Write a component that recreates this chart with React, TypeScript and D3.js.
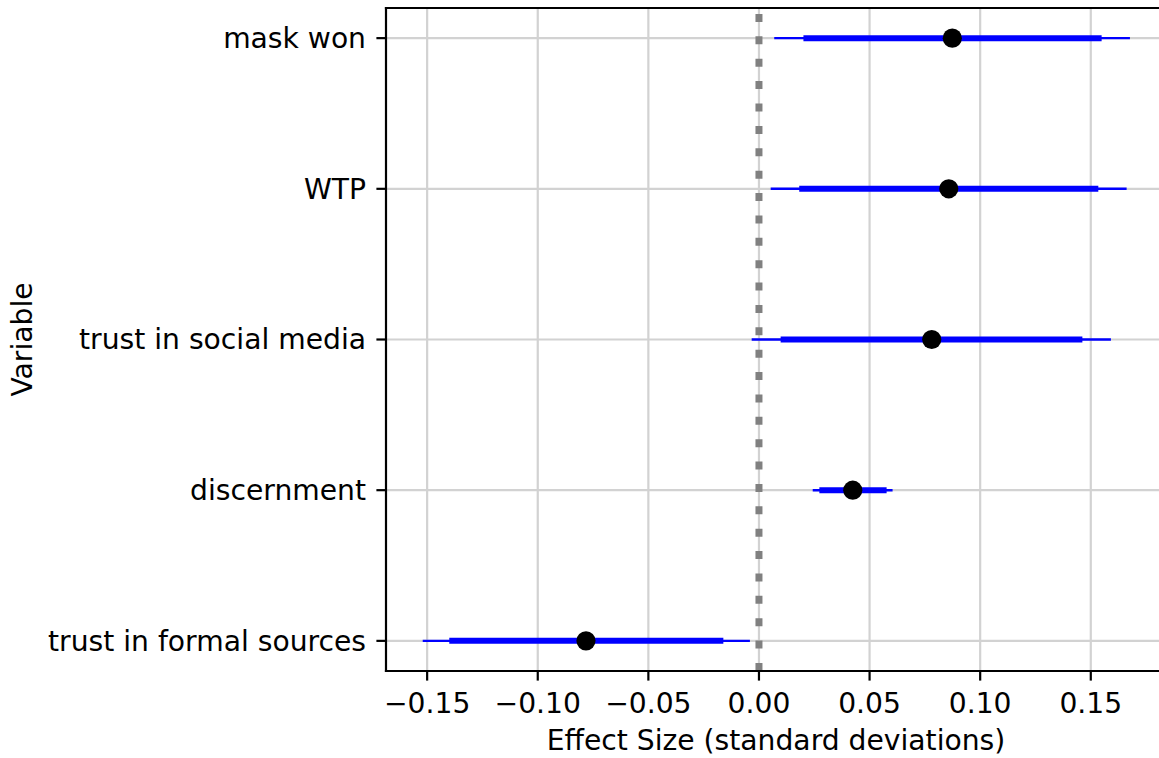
import React from "react";
import * as d3 from "d3";

const variables = ["trust in formal sources", "discernment", "trust in social media", "WTP", "mask won"];
const estimates = [-0.0782, 0.0424, 0.0781, 0.0858, 0.0874];
const ci95Low = [-0.152, 0.0243, -0.0033, 0.0053, 0.0069];
const ci95High = [-0.0041, 0.0604, 0.1591, 0.1662, 0.1677];
const ci90Low = [-0.140, 0.0273, 0.0098, 0.0182, 0.0201];
const ci90High = [-0.0161, 0.0577, 0.1462, 0.1534, 0.1549];
const xTicks = [-0.15, -0.1, -0.05, 0, 0.05, 0.1, 0.15];

const W = 1159;
const H = 758;
const L = 386, R = 1166, T = 8, B = 671;
const FONT = "DejaVu Sans, sans-serif";
const FS = 28.2;

export default function App() {
  const x = d3.scaleLinear().domain([-0.1686, 0.184]).range([L, R]);
  const y = d3.scaleLinear().domain([-0.2, 4.2]).range([B, T]);
  const fmt = (v: number) => (v < 0 ? "\u2212" : "") + Math.abs(v).toFixed(2);
  return (
    <svg width={W} height={H} style={{ position: "absolute", left: 0, top: 0, background: "#fff" }}>
      <rect x={0} y={0} width={W} height={H} fill="#fff" />
      {/* grid */}
      {xTicks.map((t) => (
        <line key={"gx" + t} x1={x(t)} x2={x(t)} y1={T} y2={B} stroke="#d2d2d2" strokeWidth={2.2} />
      ))}
      {variables.map((v, i) => (
        <line key={"gy" + v} x1={L} x2={R} y1={y(i)} y2={y(i)} stroke="#d2d2d2" strokeWidth={2.2} />
      ))}
      {/* zero line */}
      <path d={`M${x(0)},${B} L${x(0)},${T}`} stroke="#808080" strokeWidth={7} strokeDasharray="8 14.38" fill="none" />
      {/* intervals */}
      {variables.map((v, i) => (
        <g key={"m" + v}>
          <line x1={x(ci95Low[i])} x2={x(ci95High[i])} y1={y(i)} y2={y(i)} stroke="#0000ff" strokeWidth={2.4} />
          <line x1={x(ci90Low[i])} x2={x(ci90High[i])} y1={y(i)} y2={y(i)} stroke="#0000ff" strokeWidth={6} />
          <circle cx={x(estimates[i])} cy={y(i)} r={9.6} fill="#000" />
        </g>
      ))}
      {/* spines */}
      <line x1={L} x2={L} y1={T} y2={B} stroke="#000" strokeWidth={2.2} strokeLinecap="square" />
      <line x1={L} x2={R} y1={B} y2={B} stroke="#000" strokeWidth={2.2} strokeLinecap="square" />
      <line x1={L} x2={R} y1={T} y2={T} stroke="#000" strokeWidth={2.2} strokeLinecap="square" />
      <line x1={R} x2={R} y1={T} y2={B} stroke="#000" strokeWidth={2.2} />
      {/* x ticks */}
      {xTicks.map((t) => (
        <g key={"tx" + t}>
          <line x1={x(t)} x2={x(t)} y1={B} y2={B + 9.6} stroke="#000" strokeWidth={2.2} />
          <text x={x(t)} y={713} textAnchor="middle" fontFamily={FONT} fontSize={FS} fill="#000">
            {fmt(t)}
          </text>
        </g>
      ))}
      {/* y ticks */}
      {variables.map((v, i) => (
        <g key={"ty" + v}>
          <line x1={L - 9.6} x2={L} y1={y(i)} y2={y(i)} stroke="#000" strokeWidth={2.2} />
          <text x={366} y={y(i)} dy="0.35em" textAnchor="end" fontFamily={FONT} fontSize={FS} fill="#000">
            {v}
          </text>
        </g>
      ))}
      <text x={(L + R) / 2} y={750} textAnchor="middle" fontFamily={FONT} fontSize={FS} fill="#000">
        Effect Size (standard deviations)
      </text>
      <text transform={`translate(32,${(T + B) / 2}) rotate(-90)`} textAnchor="middle" fontFamily={FONT} fontSize={FS} fill="#000">
        Variable
      </text>
    </svg>
  );
}
